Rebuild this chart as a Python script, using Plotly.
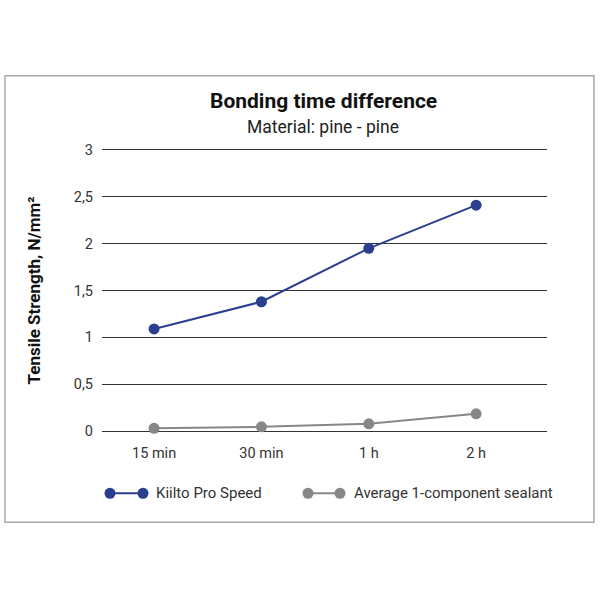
import plotly.graph_objects as go

categories = ["15 min", "30 min", "1 h", "2 h"]
kiilto = [1.09, 1.38, 1.95, 2.41]
average = [0.03, 0.046, 0.078, 0.185]
series_names = ["Kiilto Pro Speed", "Average 1-component sealant"]
y_ticks = [0, 0.5, 1, 1.5, 2, 2.5, 3]
y_tick_labels = ["0", "0,5", "1", "1,5", "2", "2,5", "3"]

BLUE = "#2b3f8f"
GRAY = "#878787"
FONT = "Roboto"

PAD = 0.03
SCALE = 281 / 3
Y_MIN, Y_MAX = -PAD, 3 + PAD
L, R = 102, 53
T = 150 - PAD * SCALE
B = 169 - PAD * SCALE
W, H = 600, 600
PW, PH = W - L - R, H - T - B


def px(x):
    return (x - L) / PW


def py(y):
    return (H - B - y) / PH


fig = go.Figure()
fig.add_trace(go.Scatter(x=categories, y=kiilto, mode="lines+markers", name=series_names[0],
                         line=dict(color=BLUE, width=2), marker=dict(color=BLUE, size=11),
                         showlegend=False))
fig.add_trace(go.Scatter(x=categories, y=average, mode="lines+markers", name=series_names[1],
                         line=dict(color=GRAY, width=2), marker=dict(color=GRAY, size=11),
                         showlegend=False))

shapes = [dict(type="rect", xref="paper", yref="paper", x0=px(5), x1=px(594), y0=py(522), y1=py(76),
               line=dict(color="#aaaaaa", width=1.5), fillcolor="rgba(0,0,0,0)", layer="below")]
annotations = [
    dict(text="<b>Bonding time difference</b>", xref="paper", yref="paper", x=px(323), y=py(101),
         showarrow=False, font=dict(family=FONT, size=21, color="#111111"), xanchor="center", yanchor="middle"),
    dict(text="Material: pine - pine", xref="paper", yref="paper", x=px(323), y=py(127),
         showarrow=False, font=dict(family=FONT, size=17.5, color="#222222"), xanchor="center", yanchor="middle"),
]

legend_items = [(110, 143, 154, BLUE, series_names[0]), (308, 340, 352, GRAY, series_names[1])]
ly = py(493)
for x0, x1, tx, col, name in legend_items:
    shapes.append(dict(type="line", xref="paper", yref="paper", x0=px(x0), x1=px(x1), y0=ly, y1=ly,
                       line=dict(color=col, width=2)))
    for cx in (x0, x1):
        shapes.append(dict(type="circle", xref="paper", yref="paper", x0=px(cx - 5.5), x1=px(cx + 5.5),
                           y0=py(493 + 5.5), y1=py(493 - 5.5), fillcolor=col, line=dict(color=col, width=0)))
    annotations.append(dict(text=name, xref="paper", yref="paper", x=px(tx), y=ly, showarrow=False,
                            xanchor="left", yanchor="middle", font=dict(family=FONT, size=15, color="#333333")))

fig.update_layout(
    width=W, height=H, margin=dict(l=L, r=R, t=T, b=B),
    paper_bgcolor="white", plot_bgcolor="white",
    font=dict(family=FONT, size=14, color="#333333"),
    shapes=shapes, annotations=annotations,
    xaxis=dict(type="category", range=[-0.485, 3.66], showgrid=False, zeroline=False, showline=False,
               ticks="", tickfont=dict(size=14.5, color="#333333"), ticklabelstandoff=8),
    yaxis=dict(range=[Y_MIN, Y_MAX], tickvals=y_ticks, ticktext=y_tick_labels, showgrid=True,
               gridcolor="#333333", gridwidth=1, zeroline=False, showline=False, ticks="",
               tickfont=dict(size=14.5, color="#333333"), ticklabelstandoff=8,
               title=dict(text="<b>Tensile Strength, N/mm²</b>", font=dict(size=17, color="#111111"), standoff=28)),
)

fig.write_html("out.html", config={"displayModeBar": False},
               post_script="document.body.style.margin='0';")
